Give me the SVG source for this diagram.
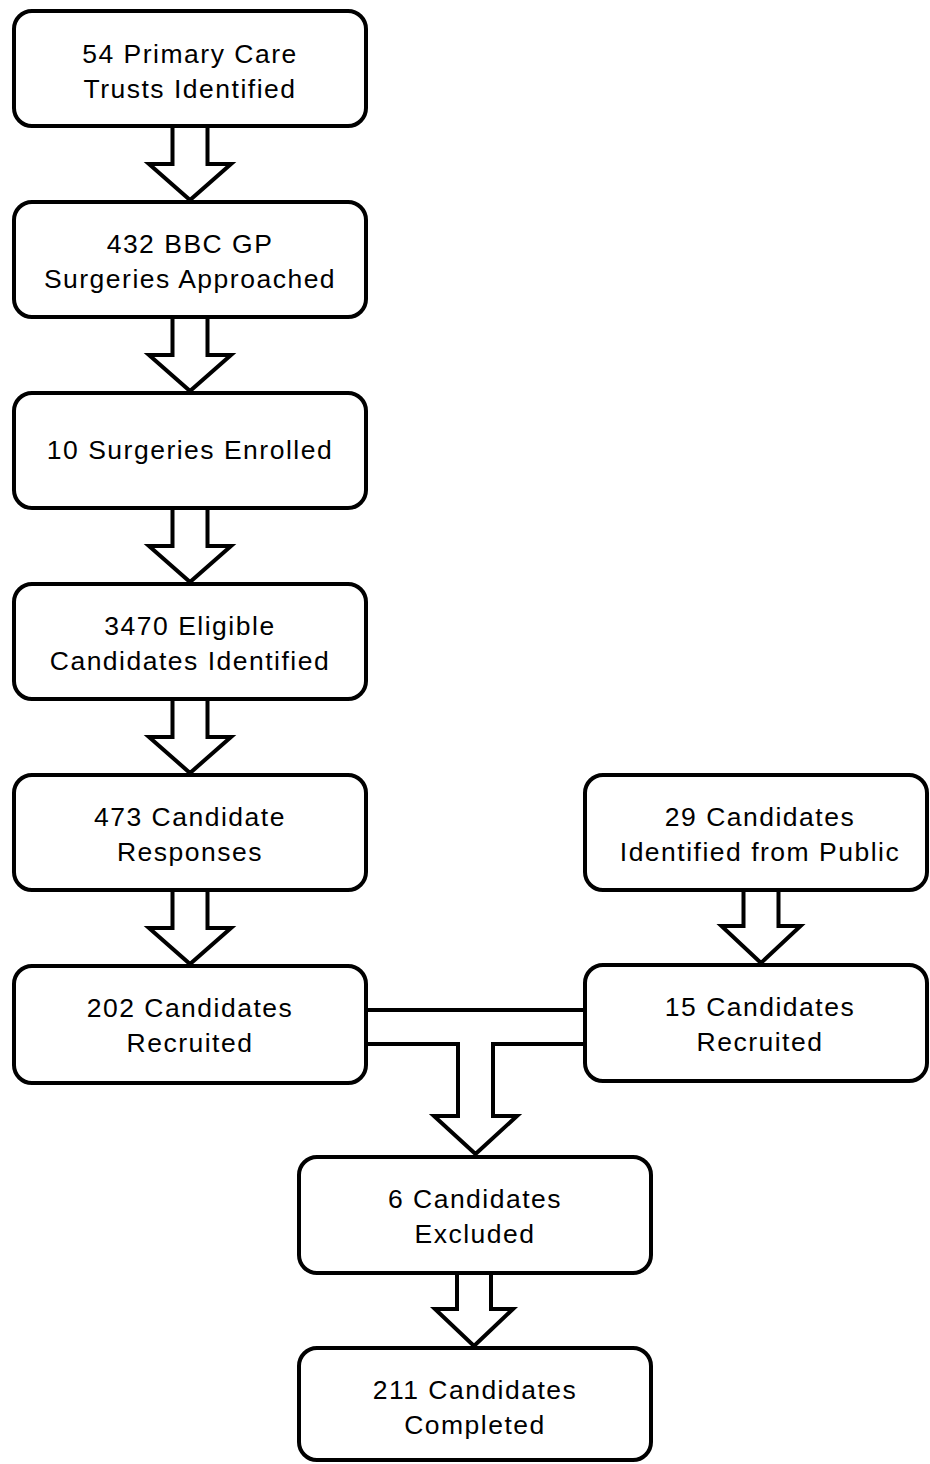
<svg xmlns="http://www.w3.org/2000/svg" width="930" height="1464" viewBox="0 0 930 1464">
<style>
.box{fill:#fff;stroke:#000;stroke-width:4}
.arr{fill:#fff;stroke:#000;stroke-width:4;stroke-linejoin:miter}
text{font-family:"Liberation Sans",Arial,sans-serif;font-size:26.5px;letter-spacing:1.5px;fill:#000;text-anchor:middle}
</style>
<rect width="930" height="1464" fill="#fff"/>
<g id="connectors">
<polygon class="arr" points="172.5,126 172.5,164 149,164 190,200 231,164 207.5,164 207.5,126"/>
<polygon class="arr" points="172.5,317 172.5,355 149,355 190,391 231,355 207.5,355 207.5,317"/>
<polygon class="arr" points="172.5,508 172.5,546 149,546 190,582 231,546 207.5,546 207.5,508"/>
<polygon class="arr" points="172.5,699 172.5,737 149,737 190,773 231,737 207.5,737 207.5,699"/>
<polygon class="arr" points="172.5,890 172.5,928 149,928 190,964 231,928 207.5,928 207.5,890"/>
<polygon class="arr" points="743.5,890 743.5,926 721.5,926 761,963 800.5,926 778.5,926 778.5,890"/>
<polygon class="arr" points="366,1010 585,1010 585,1044 493,1044 493,1116 517,1116 475.5,1154 434,1116 458,1116 458,1044 366,1044"/>
<polygon class="arr" points="457,1272 457,1309 435,1309 474,1346 513,1309 491,1309 491,1272"/>
</g>
<g id="n1"><rect class="box" x="14" y="11" width="352" height="115" rx="18"/><text x="190" y="63">54 Primary Care</text><text x="190" y="98">Trusts Identified</text></g>
<g id="n2"><rect class="box" x="14" y="202" width="352" height="115" rx="18"/><text x="190" y="253">432 BBC GP</text><text x="190" y="288">Surgeries Approached</text></g>
<g id="n3"><rect class="box" x="14" y="393" width="352" height="115" rx="18"/><text x="190" y="459">10 Surgeries Enrolled</text></g>
<g id="n4"><rect class="box" x="14" y="584" width="352" height="115" rx="18"/><text x="190" y="635">3470 Eligible</text><text x="190" y="670">Candidates Identified</text></g>
<g id="n5"><rect class="box" x="14" y="775" width="352" height="115" rx="18"/><text x="190" y="826">473 Candidate</text><text x="190" y="861">Responses</text></g>
<g id="n6"><rect class="box" x="14" y="966" width="352" height="117" rx="18"/><text x="190" y="1017">202 Candidates</text><text x="190" y="1052">Recruited</text></g>
<g id="n7"><rect class="box" x="585" y="775" width="342" height="115" rx="18"/><text x="760" y="826">29 Candidates</text><text x="760" y="861">Identified from Public</text></g>
<g id="n8"><rect class="box" x="585" y="965" width="342" height="116" rx="18"/><text x="760" y="1016">15 Candidates</text><text x="760" y="1051">Recruited</text></g>
<g id="n9"><rect class="box" x="299" y="1157" width="352" height="116" rx="18"/><text x="475" y="1208">6 Candidates</text><text x="475" y="1243">Excluded</text></g>
<g id="n10"><rect class="box" x="299" y="1348" width="352" height="112" rx="18"/><text x="475" y="1399">211 Candidates</text><text x="475" y="1434">Completed</text></g>
</svg>
